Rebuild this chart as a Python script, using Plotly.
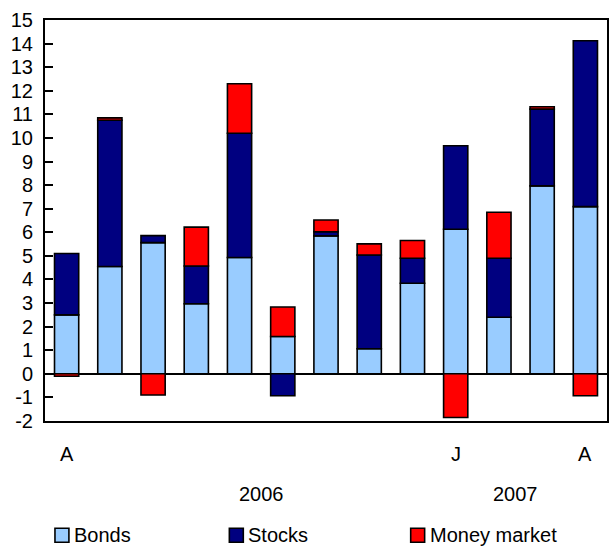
import plotly.graph_objects as go

# Monthly net flows, April 2006 to April 2007 (billions)
months = ["Apr 2006", "May 2006", "Jun 2006", "Jul 2006", "Aug 2006", "Sep 2006",
          "Oct 2006", "Nov 2006", "Dec 2006", "Jan 2007", "Feb 2007", "Mar 2007", "Apr 2007"]
bonds = [2.5, 4.55, 5.56, 2.97, 4.93, 1.58, 5.85, 1.06, 3.84, 6.13, 2.4, 7.97, 7.09]
stocks = [2.6, 6.2, 0.3, 1.6, 5.27, -0.93, 0.17, 3.98, 1.06, 3.54, 2.5, 3.25, 7.03]
money_market = [-0.1, 0.1, -0.9, 1.65, 2.1, 1.25, 0.5, 0.47, 0.75, -1.85, 1.95, 0.1, -0.93]

y_ticks = list(range(-2, 16))
y_tick_text = [str(v) for v in y_ticks]  # plain hyphen for negatives

month_ticks = [0, 9, 12]
month_text = ["A", "J", "A"]
years = ["2006", "2007"]
year_pos = [4.51, 10.39]

series_names = ["Bonds", "Stocks", "Money market"]
colors = ["#99CCFF", "#000080", "#FF0000"]

FONT = "Liberation Sans, Arial, Helvetica, sans-serif"
x = list(range(len(months)))

fig = go.Figure()
for name, vals, col in zip(series_names, [bonds, stocks, money_market], colors):
    fig.add_trace(go.Bar(
        x=x, y=vals, name=name, width=0.56,
        marker=dict(color=col, line=dict(color="black", width=1.6)),
        customdata=months, hovertemplate="%{customdata}: %{y}<extra>" + name + "</extra>",
    ))

annotations = []
for pos, txt in zip(month_ticks, month_text):
    annotations.append(dict(x=pos, y=-0.082, xref="x", yref="paper", text=txt,
                            showarrow=False, xanchor="center", yanchor="middle",
                            font=dict(size=20, color="black", family=FONT)))
for pos, txt in zip(year_pos, years):
    annotations.append(dict(x=pos, y=-0.182, xref="x", yref="paper", text=txt,
                            showarrow=False, xanchor="center", yanchor="middle",
                            font=dict(size=20, color="black", family=FONT)))

# Legend drawn below the chart: swatch + label
legend_x = [55, 230, 412]  # pixel offsets of swatches from the left edge
legend_y = -0.285
plot_left, plot_w = 45, 564
shapes = []
for lx, name, col in zip(legend_x, series_names, colors):
    x0 = (lx - plot_left) / plot_w
    x1 = (lx + 14 - plot_left) / plot_w
    shapes.append(dict(type="rect", xref="paper", yref="paper",
                       x0=x0, x1=x1, y0=legend_y - 7 / 401, y1=legend_y + 7 / 401,
                       fillcolor=col, line=dict(color="black", width=1.6)))
    annotations.append(dict(x=(lx + 17 - plot_left) / plot_w, y=legend_y, xref="paper", yref="paper",
                            text=name, showarrow=False, xanchor="left", yanchor="middle",
                            font=dict(size=20, color="black", family=FONT)))

fig.update_layout(
    width=610, height=546,
    margin=dict(l=45, r=1, t=20, b=125),
    barmode="relative",
    plot_bgcolor="white", paper_bgcolor="white",
    showlegend=False,
    font=dict(family=FONT, size=20, color="black"),
    annotations=annotations,
    shapes=shapes,
    xaxis=dict(range=[-0.5, 12.5], showticklabels=False, ticks="", showgrid=False,
               zeroline=False, showline=True, linecolor="black", linewidth=2, mirror=True,
               fixedrange=True),
    yaxis=dict(range=[-2, 15], tickmode="array", tickvals=y_ticks, ticktext=y_tick_text,
               ticks="inside", ticklen=8, tickwidth=2, tickcolor="black",
               showgrid=False, zeroline=True, zerolinecolor="black", zerolinewidth=1.5,
               showline=True, linecolor="black", linewidth=2, mirror=True,
               tickfont=dict(size=20, color="black", family=FONT), ticklabelstandoff=6,
               fixedrange=True),
)

fig.write_html("out.html")
